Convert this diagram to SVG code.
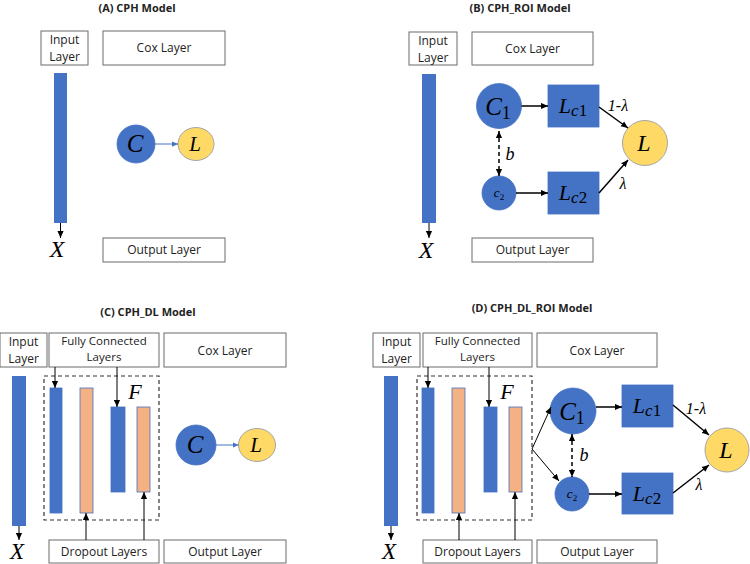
<svg xmlns="http://www.w3.org/2000/svg" width="750" height="564" viewBox="0 0 750 564">
<defs>
<marker id="ah" viewBox="0 0 8 8" refX="8" refY="4" markerWidth="7" markerHeight="7" markerUnits="userSpaceOnUse" orient="auto-start-reverse"><path d="M0,0.5 L8,4 L0,7.5 z" fill="#000"/></marker>
<marker id="ahb" viewBox="0 0 8 8" refX="8" refY="4" markerWidth="6" markerHeight="6" markerUnits="userSpaceOnUse" orient="auto"><path d="M0,0.5 L8,4 L0,7.5 z" fill="#4472C4"/></marker>
</defs>
<style>
.bg{fill:#fff}
.box{fill:#fff;stroke:#6b6b6b;stroke-width:1}
.lbl{font-family:"Open Sans","Liberation Sans",sans-serif;font-size:12px;fill:#222;text-anchor:middle}
.fc{font-size:11.5px}
.ttl{font-family:"Open Sans","Liberation Sans",sans-serif;font-size:11px;font-weight:bold;fill:#222;text-anchor:middle}
.bar{fill:#4472C4}
.bbar{fill:#4472C4;stroke:#4472C4;stroke-width:0.8}
.obar{fill:#F4B183;stroke:#4472C4;stroke-width:0.8}
.node{fill:#4472C4;stroke:#4472C4;stroke-width:0.8}
.ynode{fill:#FFD966;stroke:#A5A5A5;stroke-width:1}
.m{font-family:"Liberation Serif","DejaVu Serif",serif;font-style:italic;fill:#000;text-anchor:middle}
.up{font-style:normal}
.dash{fill:none;stroke:#333;stroke-width:1.2;stroke-dasharray:4,3}
.arr{fill:none;stroke:#000;stroke-width:1.5;marker-end:url(#ah)}
.arr1{fill:none;stroke:#000;stroke-width:1;marker-end:url(#ah)}
.barr{fill:none;stroke:#4472C4;stroke-width:1;marker-end:url(#ahb)}
.darr{fill:none;stroke:#000;stroke-width:1.5;stroke-dasharray:4,3;marker-start:url(#ah);marker-end:url(#ah)}
</style>
<rect class="bg" x="0" y="0" width="750" height="564"/>

<!-- Titles -->
<text class="ttl" x="137" y="12">(A) CPH Model</text>
<text class="ttl" x="520" y="12">(B) CPH_ROI Model</text>
<text class="ttl" x="148" y="316">(C) CPH_DL Model</text>
<text class="ttl" x="532" y="312">(D) CPH_DL_ROI Model</text>

<!-- Panel A -->
<g id="A-input"><rect class="box" x="41" y="31" width="47" height="34"/><text class="lbl" x="64.5" y="44">Input</text><text class="lbl" x="64.5" y="61">Layer</text></g>
<g id="A-cox"><rect class="box" x="103" y="31" width="122" height="34"/><text class="lbl" x="164" y="52">Cox Layer</text></g>
<g id="A-output"><rect class="box" x="103" y="238" width="122" height="24"/><text class="lbl" x="164" y="254">Output Layer</text></g>
<g id="A-bar"><rect class="bar" x="54" y="73" width="13" height="150"/></g>
<g id="A-X"><text class="m" x="57" y="257" font-size="24">X</text></g>
<g id="A-C"><circle class="node" cx="136" cy="144" r="19"/><text class="m" x="135" y="152" font-size="25">C</text></g>
<g id="A-L"><ellipse class="ynode" cx="196" cy="144" rx="18" ry="16.5"/><text class="m" x="195" y="151" font-size="21">L</text></g>

<!-- Panel B -->
<g id="B-input"><rect class="box" x="409" y="32" width="48" height="33"/><text class="lbl" x="433" y="45">Input</text><text class="lbl" x="433" y="62">Layer</text></g>
<g id="B-cox"><rect class="box" x="472" y="32" width="121" height="33"/><text class="lbl" x="532.5" y="53">Cox Layer</text></g>
<g id="B-output"><rect class="box" x="472" y="238" width="121" height="24"/><text class="lbl" x="532.5" y="254">Output Layer</text></g>
<g id="B-bar"><rect class="bar" x="422" y="74" width="14" height="149"/></g>
<g id="B-X"><text class="m" x="426" y="258" font-size="24">X</text></g>
<g id="B-C1"><circle class="node" cx="499" cy="106" r="22.5"/><text class="m" x="498" y="115" font-size="25">C<tspan class="up" font-size="18" dy="4">1</tspan></text></g>
<g id="B-c2"><circle class="node" cx="499" cy="193" r="17"/><text class="m" x="499" y="197" font-size="13">c<tspan class="up" font-size="9" dy="3">2</tspan></text></g>
<g id="B-Lc1"><rect class="node" x="548" y="85" width="51" height="42"/><text class="m" x="573" y="113" font-size="22">L<tspan font-size="17" dy="3">c</tspan><tspan class="up" font-size="17">1</tspan></text></g>
<g id="B-Lc2"><rect class="node" x="548" y="172" width="51" height="42"/><text class="m" x="573" y="200" font-size="22">L<tspan font-size="17" dy="3">c</tspan><tspan class="up" font-size="17">2</tspan></text></g>
<g id="B-L"><circle class="ynode" cx="645" cy="143" r="22.5"/><text class="m" x="644" y="151" font-size="24">L</text></g>

<!-- Panel C -->
<g id="C-input"><rect class="box" x="0" y="333" width="47" height="34"/><text class="lbl" x="23.5" y="346">Input</text><text class="lbl" x="23.5" y="363">Layer</text></g>
<g id="C-fc"><rect class="box" x="49" y="333" width="110" height="34"/><text class="lbl fc" x="104" y="345">Fully Connected</text><text class="lbl fc" x="104" y="361">Layers</text></g>
<g id="C-cox"><rect class="box" x="164" y="333" width="122" height="34"/><text class="lbl" x="225" y="355">Cox Layer</text></g>
<g id="C-dropout"><rect class="box" x="49" y="540" width="110" height="23"/><text class="lbl" x="104" y="556">Dropout Layers</text></g>
<g id="C-output"><rect class="box" x="164" y="540" width="122" height="23"/><text class="lbl" x="225" y="556">Output Layer</text></g>
<g id="C-inbar"><rect class="bar" x="12" y="376" width="14" height="150"/></g>
<g id="C-X"><text class="m" x="17" y="559" font-size="23">X</text></g>
<g id="C-F"><rect class="dash" x="44" y="376" width="115" height="144"/><text class="m" x="135" y="399" font-size="22">F</text>
<rect class="bbar" x="50" y="388" width="12" height="125"/><rect class="obar" x="80" y="388" width="13" height="125"/><rect class="bbar" x="111" y="407" width="14" height="85"/><rect class="obar" x="137" y="407" width="13" height="85"/></g>
<g id="C-C"><circle class="node" cx="196" cy="445" r="20"/><text class="m" x="195" y="453" font-size="25">C</text></g>
<g id="C-L"><ellipse class="ynode" cx="257" cy="445" rx="18.5" ry="16.5"/><text class="m" x="256" y="452" font-size="21">L</text></g>

<!-- Panel D -->
<g id="D-input"><rect class="box" x="373" y="333" width="47" height="34"/><text class="lbl" x="396.5" y="346">Input</text><text class="lbl" x="396.5" y="363">Layer</text></g>
<g id="D-fc"><rect class="box" x="423" y="333" width="109" height="34"/><text class="lbl fc" x="477.5" y="345">Fully Connected</text><text class="lbl fc" x="477.5" y="361">Layers</text></g>
<g id="D-cox"><rect class="box" x="537" y="333" width="120" height="34"/><text class="lbl" x="597" y="355">Cox Layer</text></g>
<g id="D-dropout"><rect class="box" x="423" y="540" width="109" height="23"/><text class="lbl" x="477.5" y="556">Dropout Layers</text></g>
<g id="D-output"><rect class="box" x="537" y="540" width="120" height="23"/><text class="lbl" x="597" y="556">Output Layer</text></g>
<g id="D-inbar"><rect class="bar" x="384" y="376" width="14" height="150"/></g>
<g id="D-X"><text class="m" x="389" y="559" font-size="23">X</text></g>
<g id="D-F"><rect class="dash" x="417" y="376" width="115" height="144"/><text class="m" x="507" y="399" font-size="22">F</text>
<rect class="bbar" x="422" y="388" width="12" height="125"/><rect class="obar" x="452" y="388" width="13" height="125"/><rect class="bbar" x="484" y="407" width="13" height="85"/><rect class="obar" x="509" y="407" width="13" height="85"/></g>
<g id="D-C1"><circle class="node" cx="573" cy="411" r="23"/><text class="m" x="572" y="420" font-size="25">C<tspan class="up" font-size="18" dy="4">1</tspan></text></g>
<g id="D-c2"><circle class="node" cx="572" cy="494" r="17"/><text class="m" x="572" y="498" font-size="13">c<tspan class="up" font-size="9" dy="3">2</tspan></text></g>
<g id="D-Lc1"><rect class="node" x="622" y="385" width="51" height="42"/><text class="m" x="647" y="413" font-size="22">L<tspan font-size="17" dy="3">c</tspan><tspan class="up" font-size="17">1</tspan></text></g>
<g id="D-Lc2"><rect class="node" x="622" y="473" width="51" height="41"/><text class="m" x="647" y="501" font-size="22">L<tspan font-size="17" dy="3">c</tspan><tspan class="up" font-size="17">2</tspan></text></g>
<g id="D-L"><circle class="ynode" cx="727" cy="450" r="22"/><text class="m" x="726" y="458" font-size="24">L</text></g>

<!-- Connectors -->
<g id="connectors">
<line class="arr1" x1="60.5" y1="223" x2="60.5" y2="238"/>
<line class="barr" x1="155" y1="144" x2="178" y2="144"/>

<line class="arr1" x1="429" y1="223" x2="429" y2="238"/>
<line class="arr" x1="521.5" y1="106" x2="548" y2="106"/>
<line class="arr" x1="516" y1="193" x2="548" y2="193"/>
<line class="arr" x1="599" y1="107" x2="628" y2="128"/>
<line class="arr" x1="599" y1="193" x2="628" y2="160"/>
<line class="darr" x1="499" y1="131" x2="499" y2="176"/>
<text class="m" x="618" y="111" font-size="16">1-λ</text>
<text class="m" x="623" y="189" font-size="16">λ</text>
<text class="m" x="510" y="160" font-size="18">b</text>

<line class="arr1" x1="19" y1="526" x2="19" y2="540"/>
<line class="arr1" x1="55" y1="367" x2="55" y2="388"/>
<line class="arr1" x1="117" y1="367" x2="117" y2="407"/>
<line class="arr1" x1="86" y1="540" x2="86" y2="513"/>
<line class="arr1" x1="144" y1="540" x2="144" y2="492"/>
<line class="barr" x1="216" y1="445" x2="238.5" y2="445"/>

<line class="arr1" x1="391" y1="526" x2="391" y2="540"/>
<line class="arr1" x1="428" y1="367" x2="428" y2="388"/>
<line class="arr1" x1="489" y1="367" x2="489" y2="407"/>
<line class="arr1" x1="459" y1="540" x2="459" y2="513"/>
<line class="arr1" x1="515" y1="540" x2="515" y2="492"/>
<line class="arr1" x1="532" y1="449" x2="551" y2="407"/>
<line class="arr1" x1="532" y1="449" x2="559" y2="481"/>
<line class="arr" x1="596" y1="407" x2="622" y2="407"/>
<line class="arr" x1="589" y1="494" x2="622" y2="494"/>
<line class="arr" x1="673" y1="405" x2="709" y2="435"/>
<line class="arr" x1="673" y1="493" x2="709" y2="465"/>
<line class="darr" x1="572" y1="434" x2="572" y2="477"/>
<text class="m" x="696" y="414" font-size="16">1-λ</text>
<text class="m" x="699" y="490" font-size="16">λ</text>
<text class="m" x="584" y="461" font-size="18">b</text>
</g>
</svg>
